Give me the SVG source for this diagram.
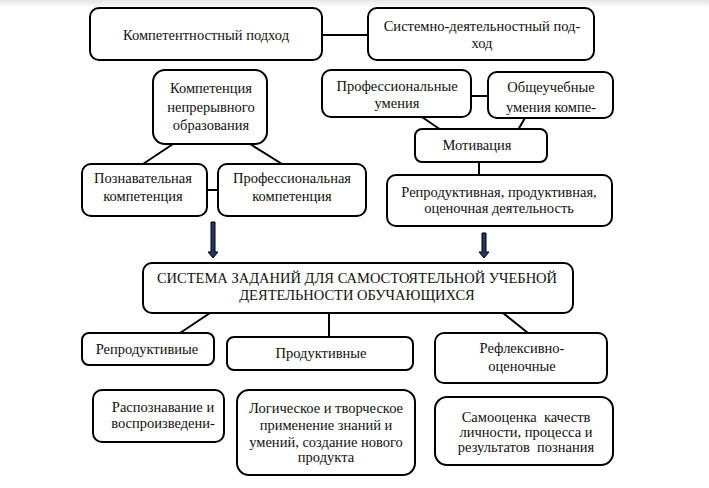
<svg xmlns="http://www.w3.org/2000/svg" width="709" height="488" viewBox="0 0 709 488">
<defs>
<linearGradient id="topfade" x1="0" y1="0" x2="0" y2="1">
<stop offset="0" stop-color="#e6e6e6"/>
<stop offset="1" stop-color="#ffffff"/>
</linearGradient>
<style>
.b{fill:#fff;stroke:#000;stroke-width:2}
.t{font-family:'Liberation Serif','Times New Roman','DejaVu Serif',serif;font-size:14.5px;fill:#111;text-anchor:middle;white-space:pre}
.c{stroke:#000;stroke-width:2;fill:none}
.arr{fill:#1f3864;stroke:#000;stroke-width:1}
</style>
</defs>
<rect x="0" y="0" width="709" height="488" fill="#fff"/>
<rect x="0" y="0" width="709" height="8" fill="url(#topfade)"/>
<g id="connectors">
<line class="c" x1="322" y1="35" x2="368" y2="35"/>
<line class="c" x1="173" y1="144" x2="143" y2="164"/>
<line class="c" x1="250" y1="144" x2="282" y2="164"/>
<line class="c" x1="207" y1="190" x2="218" y2="190"/>
<line class="c" x1="471" y1="96" x2="488" y2="96"/>
<line class="c" x1="422" y1="117" x2="441" y2="130"/>
<line class="c" x1="525" y1="118" x2="518" y2="130"/>
<line class="c" x1="479" y1="162" x2="479" y2="175"/>
<line class="c" x1="210" y1="313" x2="180" y2="333"/>
<line class="c" x1="329" y1="313" x2="329" y2="337"/>
<line class="c" x1="503" y1="313" x2="528" y2="333"/>
<path class="arr" d="M211,222 h4 v30 h3 l-5,6 l-5,-6 h3 z"/>
<path class="arr" d="M482,233 h4 v19 h3 l-5,6 l-5,-6 h3 z"/>
</g>
<g id="n1"><rect class="b" x="90" y="8" width="232" height="52" rx="9"/><text class="t" x="206" y="40">Компетентностный подход</text></g>
<g id="n2"><rect class="b" x="368" y="8" width="226" height="52" rx="9"/><text class="t" x="482" y="31">Системно-деятельностный под-</text><text class="t" x="482" y="48">ход</text></g>
<g id="n3"><rect class="b" x="153" y="70" width="114" height="74" rx="12"/><text class="t" x="211" y="93">Компетенция</text><text class="t" x="211" y="112">непрерывного</text><text class="t" x="211" y="130">образования</text></g>
<g id="n4"><rect class="b" x="82" y="164" width="125" height="52" rx="9"/><text class="t" x="143" y="183">Познавательная</text><text class="t" x="143" y="201">компетенция</text></g>
<g id="n5"><rect class="b" x="218" y="164" width="148" height="52" rx="9"/><text class="t" x="292" y="183">Профессиональная</text><text class="t" x="292" y="201">компетенция</text></g>
<g id="n6"><rect class="b" x="322" y="70" width="149" height="47" rx="9"/><text class="t" x="397" y="91">Профессиональные</text><text class="t" x="397" y="108">умения</text></g>
<g id="n7"><rect class="b" x="488" y="72" width="125" height="46" rx="9"/><text class="t" x="551" y="92">Общеучебные</text><text class="t" x="551" y="112">умения компе-</text></g>
<g id="n8"><rect class="b" x="415" y="129" width="132" height="33" rx="7"/><text class="t" x="477" y="150">Мотивация</text></g>
<g id="n9"><rect class="b" x="387" y="175" width="225" height="51" rx="9"/><text class="t" x="499" y="197">Репродуктивная, продуктивная,</text><text class="t" x="499" y="213">оценочная деятельность</text></g>
<g id="n10"><rect class="b" x="143" y="263" width="430" height="50" rx="9"/><text class="t" x="357" y="283">СИСТЕМА ЗАДАНИЙ ДЛЯ САМОСТОЯТЕЛЬНОЙ УЧЕБНОЙ</text><text class="t" x="357" y="300">ДЕЯТЕЛЬНОСТИ ОБУЧАЮЩИХСЯ</text></g>
<g id="n11"><rect class="b" x="82" y="333" width="132" height="32" rx="7"/><text class="t" x="147" y="354">Репродуктивиые</text></g>
<g id="n12"><rect class="b" x="227" y="337" width="186" height="33" rx="7"/><text class="t" x="321" y="358">Продуктивные</text></g>
<g id="n13"><rect class="b" x="435" y="333" width="172" height="50" rx="9"/><text class="t" x="522" y="353">Рефлексивно-</text><text class="t" x="522" y="371">оценочные</text></g>
<g id="n14"><rect class="b" x="93" y="390" width="131" height="52" rx="9"/><text class="t" x="163" y="412">Распознавание и</text><text class="t" x="163" y="428">воспроизведени-</text></g>
<g id="n15"><rect class="b" x="237" y="390" width="178" height="85" rx="12"/><text class="t" x="326" y="413">Логическое и творческое</text><text class="t" x="326" y="430">применение знаний и</text><text class="t" x="326" y="447">умений, создание нового</text><text class="t" x="326" y="462">продукта</text></g>
<g id="n16"><rect class="b" x="435" y="397" width="178" height="68" rx="12"/><text class="t" x="526" y="422">Самооценка  качеств</text><text class="t" x="526" y="437">личности, процесса и</text><text class="t" x="526" y="452">результатов  познания</text></g>
</svg>
